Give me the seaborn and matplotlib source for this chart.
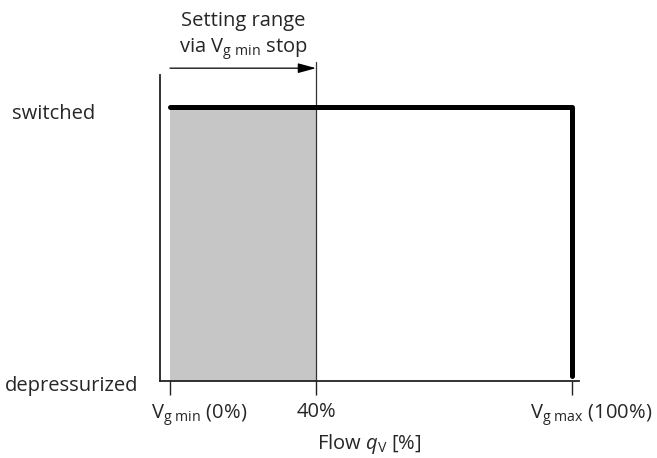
import matplotlib
matplotlib.use("Agg")
import matplotlib.pyplot as plt
import matplotlib.transforms as mtransforms
import seaborn as sns

sns.set_style("white")
plt.rcParams['font.family'] = ['Open Sans', 'DejaVu Sans']
plt.rcParams['mathtext.fontset'] = 'custom'
plt.rcParams['mathtext.rm'] = 'Open Sans'
plt.rcParams['mathtext.it'] = 'Open Sans:italic'

FS = 14.5

# Schematic data (x positions in diagram units, 40% sits at ~36% of the width)
flow_pos = [0, 36.3, 100]
flow_labels = ['V$_\\mathrm{g\\ min}$ (0%)', '40%', 'V$_\\mathrm{g\\ max}$ (100%)']
label_shift = [29, 0, 19]          # pixel offset of tick labels
state_labels = ['depressurized', 'switched']
curve_flow = [0, 100, 100]
curve_state = [1, 1, 0.02]
range_flow = [0, 36.3]

fig = plt.figure(figsize=(6.57, 4.58), dpi=100)
ax = fig.add_axes([0.2435, 0.1681, 0.8813 - 0.2435, 0.8362 - 0.1681])

# setting range shading
ax.fill_between(range_flow, 0, 1, color='#c6c6c6', lw=0, zorder=1)

# characteristic curve
sns.lineplot(x=curve_flow, y=curve_state, sort=False, estimator=None,
             color='black', lw=3.6, ax=ax, zorder=3)

# 40% limit line and arrow
ax.plot([range_flow[1], range_flow[1]], [0, 1.165], color='#333333', lw=0.9,
        clip_on=False, zorder=2)
ax.annotate('', xy=(range_flow[1], 1.142), xytext=(range_flow[0], 1.142),
            xycoords='data', annotation_clip=False,
            arrowprops=dict(arrowstyle='-|>,head_length=1.1,head_width=0.3',
                            color='black', lw=0.9, shrinkA=0, shrinkB=0))
ax.text((range_flow[0] + range_flow[1]) / 2, 1.315, 'Setting range',
        ha='center', va='center', fontsize=FS, clip_on=False)
ax.text((range_flow[0] + range_flow[1]) / 2, 1.212,
        'via V$_\\mathrm{g\\ min}$ stop',
        ha='center', va='center', fontsize=FS, clip_on=False)

ax.set_xlim(-2.5, 101.7)
ax.set_ylim(0, 1.117)

ax.set_xticks(flow_pos)
ax.set_xticklabels(flow_labels, fontsize=FS)
ax.tick_params(axis='x', direction='out', length=10, width=1, color='#222222',
               bottom=True, pad=5)
for lab, dx in zip(ax.get_xticklabels(), label_shift):
    lab.set_transform(lab.get_transform() +
                      mtransforms.ScaledTranslation(dx / 100, 0, fig.dpi_scale_trans))

ax.set_yticks([])
trans = mtransforms.blended_transform_factory(fig.transFigure, ax.transData)
ax.text(0.008, -0.018, state_labels[0], transform=trans, ha='left', va='center',
        fontsize=FS)
ax.text(0.018, 0.975, state_labels[1], transform=trans, ha='left', va='center',
        fontsize=FS)

ax.set_xlabel('Flow $\\mathit{q}_\\mathrm{V}$ [%]', fontsize=FS, labelpad=3)

sns.despine(ax=ax)
for s in ['left', 'bottom']:
    ax.spines[s].set_color('#222222')
    ax.spines[s].set_linewidth(1.3)

fig.savefig('out.png', dpi=100)
